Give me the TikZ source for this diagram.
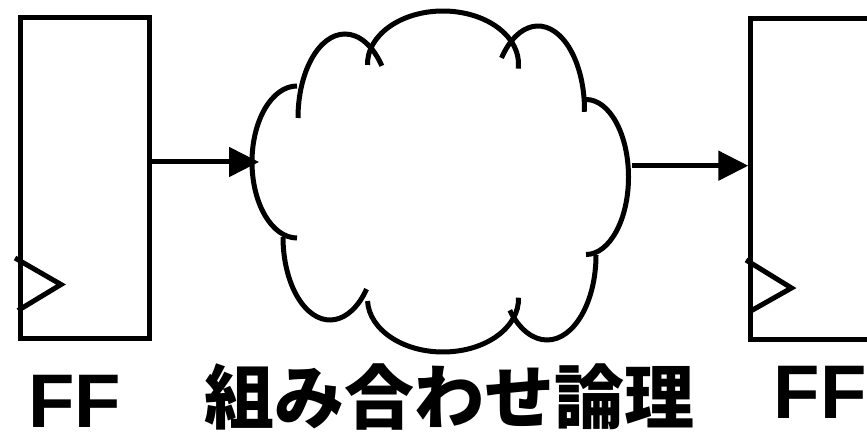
\documentclass[tikz,border=0pt]{standalone}
\usepackage{fontspec}
\setmainfont{Liberation Sans}
\newfontfamily\jpfont{Noto Sans CJK JP}
\usetikzlibrary{arrows.meta}
\newcommand\cloudarc[5]{% center, rx, ry, start, end
  \draw[cloudline] ([shift={(#4:#2 and #3)}]#1) arc[start angle=#4, end angle=#5, x radius=#2, y radius=#3];}
\begin{document}
\begin{tikzpicture}[x=1pt,y=-1pt,
  cloudline/.style={line width=5pt},
  ffbox/.style={draw, line width=5pt, inner sep=0pt, anchor=north west},
  clk/.style={line width=5pt},
  sig/.style={line width=5pt, -{Triangle[length=30pt,width=29pt]}},
  lbl/.style={inner sep=0pt, font=\fontsize{76}{80}\selectfont\bfseries},
  jp/.style={inner sep=0pt, font=\jpfont\fontsize{70}{80}\selectfont\bfseries}]
\clip (0,0) rectangle (867,435);
\fill[white] (0,0) rectangle (867,435);
% flip-flops
\node[ffbox, minimum width=129.2pt, minimum height=320.7pt] (ff1) at (17.5,15) {};
\node[ffbox, minimum width=200pt, minimum height=321pt] (ff2) at (748.3,15.8) {};
\draw[clk] (15,258) -- (61,284.5) -- (18,310.5);
\draw[clk] (746,260) -- (791.5,288) -- (749,312);
% cloud
\cloudarc{297,162}{45}{76}{-90}{-270}
\cloudarc{345,118}{47}{84}{180}{321.6}
\cloudarc{443,64}{75.5}{53}{179}{365}
\cloudarc{538,110}{46.5}{84}{218.3}{361.2}
\cloudarc{586,177}{42.5}{77.5}{-90}{90}
\cloudarc{547,255}{49}{85}{0}{139.4}
\cloudarc{443,299}{75.5}{53}{-1.4}{177.8}
\cloudarc{330,237}{47}{83}{38.9}{180}
\coordinate (cl) at (259,162);
\coordinate (cr) at (631.5,165.7);
% signals
\draw[sig] (ff1.east |- cl) -- (cl);
\draw[sig] (cr) -- (ff2.west |- cr);
% labels
\node[lbl] (t1) at (74.7,401) {FF};
\node[jp] (t2) at (449,397) {組み合わせ論理};
\node[lbl] (t3) at (820,392) {FF};
\end{tikzpicture}
\end{document}
